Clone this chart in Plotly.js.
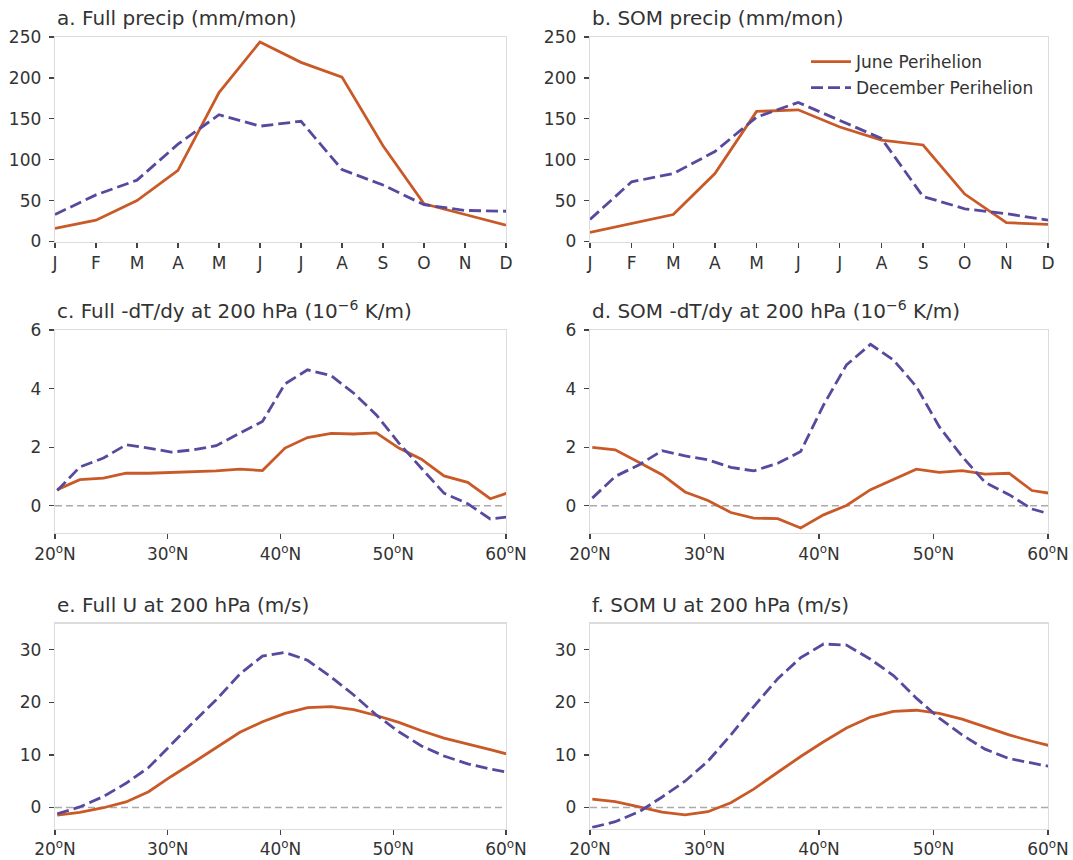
<!DOCTYPE html>
<html><head><meta charset="utf-8">
<script src="https://cdn.plot.ly/plotly-3.0.1.min.js"></script>
<style>html,body{margin:0;padding:0;background:#fff}</style>
</head><body><div id="chart" style="width:1073px;height:860px"></div>
<script>
const months = ['Jan','Feb','Mar','Apr','May','Jun','Jul','Aug','Sep','Oct','Nov','Dec'];
const monthLabels = ['J','F','M','A','M','J','J','A','S','O','N','D'];
const fullPrecipJune = [16,26,50,87,182,244,219,201,117,46,33,20];
const fullPrecipDec  = [33,57,75,119,155,141,147,88,69,45,38,37];
const somPrecipJune  = [11,22,33,83,159,161,140,124,118,58,23,21];
const somPrecipDec   = [27,73,83,110,152,170,148,126,55,40,34,26];

const lats = [20.2,22.2,24.3,26.3,28.3,30.3,32.3,34.3,36.4,38.4,40.4,42.4,44.5,46.5,48.5,50.5,52.5,54.5,56.6,58.6,60.6];
const fullDTdyJune = [0.55,0.89,0.94,1.11,1.11,1.14,1.17,1.19,1.25,1.2,1.97,2.33,2.47,2.45,2.49,1.97,1.59,1.02,0.8,0.24,0.5];
const fullDTdyDec  = [0.52,1.32,1.63,2.08,1.97,1.83,1.91,2.05,2.48,2.88,4.16,4.64,4.44,3.84,3.1,2.14,1.28,0.43,0.07,-0.45,-0.36];
const somDTdyJune  = [1.99,1.91,1.48,1.06,0.47,0.18,-0.23,-0.42,-0.44,-0.76,-0.31,0.01,0.55,0.89,1.25,1.14,1.2,1.08,1.11,0.52,0.4];
const somDTdyDec   = [0.26,1.0,1.4,1.88,1.7,1.57,1.31,1.19,1.45,1.85,3.44,4.81,5.51,4.98,4.07,2.7,1.68,0.8,0.38,-0.11,-0.33];
const fullUJune = [-1.45,-0.95,-0.05,1.05,3.0,5.9,8.6,11.4,14.3,16.3,17.9,19.0,19.2,18.6,17.5,16.2,14.6,13.2,12.0,11.0,9.9];
const fullUDec  = [-1.2,0.1,2.1,4.6,7.6,12.0,16.3,20.5,25.4,28.8,29.5,28.0,24.8,21.4,17.6,14.4,11.7,9.8,8.3,7.3,6.5];
const somUJune  = [1.6,1.1,0.1,-0.9,-1.4,-0.8,0.9,3.5,6.7,9.7,12.5,15.1,17.2,18.3,18.5,17.9,16.8,15.3,13.8,12.6,11.5];
const somUDec   = [-3.8,-2.7,-0.8,2.0,5.0,8.8,13.8,19.2,24.5,28.5,31.1,30.9,28.2,25.1,20.8,17.0,13.8,11.1,9.3,8.4,7.6];

const latTickVals = [20,30,40,50,60];
const latTickText = ['20<sup>o</sup>N','30<sup>o</sup>N','40<sup>o</sup>N','50<sup>o</sup>N','60<sup>o</sup>N'];
const seriesNames = ['June Perihelion','December Perihelion'];
const panelTitles = [
  'a. Full precip (mm/mon)',
  'b. SOM precip (mm/mon)',
  'c. Full -dT/dy at 200 hPa (10<sup>\u22126</sup> K/m)',
  'd. SOM -dT/dy at 200 hPa (10<sup>\u22126</sup> K/m)',
  'e. Full U at 200 hPa (m/s)',
  'f. SOM U at 200 hPa (m/s)'
];

const juneColor = '#c95a28';
const decColor = '#574a9e';
const panels = [
  {x: months, june: fullPrecipJune, dec: fullPrecipDec},
  {x: months, june: somPrecipJune, dec: somPrecipDec},
  {x: lats, june: fullDTdyJune, dec: fullDTdyDec},
  {x: lats, june: somDTdyJune, dec: somDTdyDec},
  {x: lats, june: fullUJune, dec: fullUDec},
  {x: lats, june: somUJune, dec: somUDec}
];

const W = 1073, H = 860;
const colPx = [[55,506],[590,1048]];
const rowPx = [[37,241.5],[330,533],[623.5,828.5]];
const yRanges = [[0,250],[-0.93,6],[-4,35]];
const yTicks = [[0,50,100,150,200,250],[0,2,4,6],[0,10,20,30]];

const traces = [];
const layout = {
  width: W, height: H,
  margin: {l:0, r:0, t:0, b:0},
  paper_bgcolor: '#fff', plot_bgcolor: '#fff',
  font: {family: 'DejaVu Sans, Liberation Sans, Arial, sans-serif', size: 17, color: '#333'},
  showlegend: true,
  legend: {x: 806/W, y: 1 - 44/H, xanchor: 'left', yanchor: 'top', bgcolor: 'rgba(0,0,0,0)',
           font: {size: 17, color: '#333'}, tracegroupgap: 1, traceorder: 'grouped', itemwidth: 40},
  annotations: [], shapes: []
};

panels.forEach((p, i) => {
  const r = Math.floor(i / 2), c = i % 2;
  const n = i + 1;
  const xa = 'x' + (n === 1 ? '' : n), ya = 'y' + (n === 1 ? '' : n);
  const xkey = 'xaxis' + (n === 1 ? '' : n), ykey = 'yaxis' + (n === 1 ? '' : n);
  const common = {showline: true, mirror: true, linecolor: '#dcdcdc', linewidth: 1.3,
    ticks: 'outside', ticklen: 5, tickwidth: 1.3, tickcolor: '#444',
    showgrid: false, zeroline: false, automargin: false, fixedrange: true,
    tickfont: {size: 17, color: '#333'}};
  const xdom = [colPx[c][0] / W, colPx[c][1] / W];
  const ydom = [1 - rowPx[r][1] / H, 1 - rowPx[r][0] / H];
  if (r === 0) {
    layout[xkey] = Object.assign({}, common, {domain: xdom, anchor: ya, type: 'category',
      categoryarray: months, tickvals: months, ticktext: monthLabels, range: [0, 11], ticklabelstandoff: 1});
  } else {
    layout[xkey] = Object.assign({}, common, {domain: xdom, anchor: ya, range: [20, 60],
      tickvals: latTickVals, ticktext: latTickText, ticklabelstandoff: 0});
    layout.shapes.push({type: 'line', xref: xa + ' domain', x0: 0, x1: 1, yref: ya, y0: 0, y1: 0,
      layer: 'below', line: {color: '#aaaaaa', width: 1.6, dash: '7px,4px'}});
  }
  layout[ykey] = Object.assign({}, common, {domain: ydom, anchor: xa, range: yRanges[r],
    tickvals: yTicks[r], ticklabelstandoff: 4});
  const showL = (i === 1);
  traces.push({x: p.x, y: p.june, xaxis: xa, yaxis: ya, type: 'scatter', mode: 'lines',
    name: seriesNames[0], legendgroup: 'june', showlegend: showL,
    line: {color: juneColor, width: 2.8}});
  traces.push({x: p.x, y: p.dec, xaxis: xa, yaxis: ya, type: 'scatter', mode: 'lines',
    name: seriesNames[1], legendgroup: 'dec', showlegend: showL,
    line: {color: decColor, width: 2.8, dash: '12px,5px'}});
  layout.annotations.push({text: panelTitles[i], xref: 'paper', yref: 'paper',
    x: (colPx[c][0]) / W, y: 1 - rowPx[r][0] / H, xanchor: 'left', yanchor: 'bottom',
    yshift: 5, showarrow: false, font: {size: 20, color: '#333'}});
});

Plotly.newPlot('chart', traces, layout, {staticPlot: true, displayModeBar: false});
</script></body></html>
